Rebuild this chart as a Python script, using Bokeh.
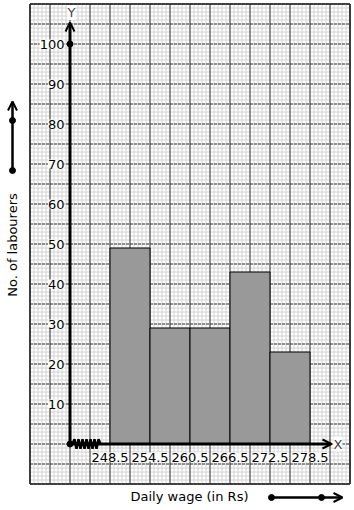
import numpy as np
from bokeh.plotting import figure
from bokeh.models import Range1d, ColumnDataSource, LabelSet, Label, Arrow, OpenHead
from bokeh.core.properties import value
from bokeh.embed import file_html
from bokeh.resources import INLINE

# ---- data ----
class_edges = [248.5, 254.5, 260.5, 266.5, 272.5, 278.5]
labourers = [49, 29, 29, 43, 23]
x_tick_labels = ["248.5", "254.5", "260.5", "266.5", "272.5", "278.5"]
y_ticks = [10, 20, 30, 40, 50, 60, 70, 80, 90, 100]
y_tick_labels = [str(v) for v in y_ticks]
x_title = "Daily wage (in Rs)"
y_title = "No. of labourers"

# ---- layout (graph paper coordinate system) ----
x_origin = 242.5          # where the broken x axis meets the y axis
x_unit = 0.15             # wage units per pixel
y_unit = 0.25             # labourers per pixel
grid_x = (236.5, 284.5)
grid_y = (-10, 110)
FONT = "DejaVu Sans"

def px_x(px):
    return x_origin + (px - 69.5) * x_unit

def px_y(py):
    return (443.5 - py) * y_unit

p = figure(width=354, height=510,
           x_range=Range1d(px_x(0), px_x(354)),
           y_range=Range1d(px_y(510), px_y(0)),
           min_border=0, x_axis_location=None, y_axis_location=None,
           outline_line_color=None, toolbar_location=None,
           output_backend="svg", background_fill_color="white")
p.grid.visible = False

# minor grid
vx_minor = np.round(np.arange(grid_x[0], grid_x[1] + 1e-6, 0.6), 4)
hy_minor = np.arange(grid_y[0], grid_y[1] + 1e-6, 1.0)
p.segment(x0=vx_minor, y0=grid_y[0], x1=vx_minor, y1=grid_y[1],
          line_color="#d2d2d2", line_width=1)
p.segment(x0=grid_x[0], y0=hy_minor, x1=grid_x[1], y1=hy_minor,
          line_color="#d2d2d2", line_width=1)
# major grid
vx_major = np.arange(grid_x[0], grid_x[1] + 1e-6, 3.0)
hy_major = np.arange(grid_y[0], grid_y[1] + 1e-6, 5.0)
p.segment(x0=vx_major, y0=grid_y[0], x1=vx_major, y1=grid_y[1],
          line_color="#383838", line_width=1)
p.segment(x0=grid_x[0], y0=hy_major, x1=grid_x[1], y1=hy_major,
          line_color="#383838", line_width=1, line_dash="3 1")
# border
p.segment(x0=[grid_x[0], grid_x[1], grid_x[0], grid_x[0]],
          y0=[grid_y[0], grid_y[0], grid_y[0], grid_y[1]],
          x1=[grid_x[0], grid_x[1], grid_x[1], grid_x[1]],
          y1=[grid_y[1], grid_y[1], grid_y[0], grid_y[1]],
          line_color="#222222", line_width=1.5)

# histogram bars
p.quad(left=class_edges[:-1], right=class_edges[1:], bottom=0, top=labourers,
       fill_color="#999999", line_color="black", line_width=1)

# axes
y_axis_tip = px_y(22)
x_axis_tip = px_x(331)
p.add_layout(Arrow(end=OpenHead(size=9, line_width=2, line_color="black"),
                   x_start=x_origin, y_start=0, x_end=x_origin, y_end=y_axis_tip,
                   line_width=3, line_color="black"))
p.add_layout(Arrow(end=OpenHead(size=9, line_width=2, line_color="black"),
                   x_start=x_origin, y_start=0, x_end=x_axis_tip, y_end=0,
                   line_width=3, line_color="black"))
p.scatter(x=[x_origin, x_origin], y=[0, max(y_ticks)], size=6, color="black")

# zigzag (axis break)
n_zz = 15
zz_x = np.linspace(px_x(72), px_x(100), n_zz)
zz_y = np.array([0] + [(1 if i % 2 else -1) * 1.2 for i in range(1, n_zz - 1)] + [0])
p.line(zz_x, zz_y, line_color="black", line_width=2.5)

# tick labels
ysrc = ColumnDataSource(dict(x=[px_x(64)] * len(y_ticks), y=y_ticks, t=y_tick_labels))
p.add_layout(LabelSet(x="x", y="y", text="t", source=ysrc, text_align="right",
                      text_baseline="middle", text_font=value(FONT),
                      text_font_size=value("13px"), text_color="black",
                      background_fill_color="white"))
xsrc = ColumnDataSource(dict(x=class_edges, y=[px_y(456.5)] * len(class_edges), t=x_tick_labels))
p.add_layout(LabelSet(x="x", y="y", text="t", source=xsrc, text_align="center",
                      text_baseline="middle", text_font=value(FONT),
                      text_font_size=value("13px"), text_color="black",
                      background_fill_color="white"))

# axis letters
p.add_layout(Label(x=px_x(71), y=px_y(12), text="Y", text_align="center",
                   text_baseline="middle", text_font=FONT,
                   text_font_size="13px", background_fill_color="white"))
p.add_layout(Label(x=px_x(333), y=0, text="X", text_align="left",
                   text_baseline="middle", text_font=FONT,
                   text_font_size="13px", background_fill_color="white"))

# titles
p.add_layout(Label(x=px_x(189), y=px_y(496), text=x_title, text_align="center",
                   text_baseline="middle", text_font=FONT,
                   text_font_size="13px", text_color="black"))
p.add_layout(Label(x=px_x(12), y=px_y(244.5), text=y_title, text_align="center",
                   text_baseline="middle", text_font=FONT,
                   text_font_size="13px", text_color="black", angle=np.pi / 2))

# direction arrows next to titles
p.add_layout(Arrow(end=OpenHead(size=9, line_width=2, line_color="black"),
                   x_start=px_x(12), y_start=px_y(170), x_end=px_x(12), y_end=px_y(101),
                   line_width=2.5, line_color="black"))
p.scatter(x=[px_x(12), px_x(12)], y=[px_y(170), px_y(120)], size=6, color="black")
p.add_layout(Arrow(end=OpenHead(size=9, line_width=2, line_color="black"),
                   x_start=px_x(271), y_start=px_y(497), x_end=px_x(342), y_end=px_y(497),
                   line_width=2.5, line_color="black"))
p.scatter(x=[px_x(271), px_x(321)], y=[px_y(497), px_y(497)], size=6, color="black")

open("out.html", "w").write(file_html(p, INLINE))
